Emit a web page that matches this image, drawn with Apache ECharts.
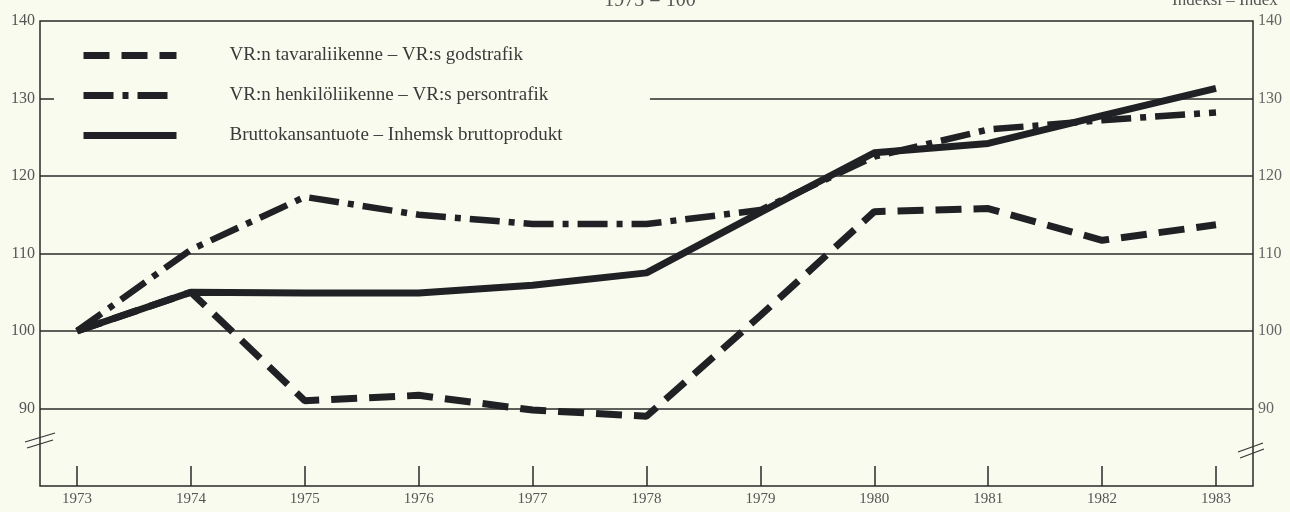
<!DOCTYPE html>
<html>
<head>
<meta charset="utf-8">
<script src="https://cdn.jsdelivr.net/npm/echarts@6/dist/echarts.min.js"></script>
<style>
  html, body { margin: 0; padding: 0; background: #fafbef; }
  #chart { width: 1290px; height: 512px; }
</style>
</head>
<body>
<div id="chart"></div>
<script>
// ====== data (1973 = 100) ======
const years = [1973, 1974, 1975, 1976, 1977, 1978, 1979, 1980, 1981, 1982, 1983];
const goodsTraffic = [100, 105, 91, 91.7, 89.8, 89, 102, 115.4, 115.8, 111.7, 113.7];
const passengerTraffic = [100, 110.5, 117.3, 115, 113.8, 113.8, 115.6, 122.5, 126, 127.2, 128.2];
const gdp = [100, 105, 104.9, 104.9, 105.9, 107.5, 115.3, 123, 124.2, 127.8, 131.3];
const yLabels = [90, 100, 110, 120, 130, 140];
const fullGridLines = [90, 100, 110, 120];

const seriesNames = [
  "VR:n tavaraliikenne – VR:s godstrafik",
  "VR:n henkilöliikenne – VR:s persontrafik",
  "Bruttokansantuote – Inhemsk bruttoprodukt",
];

const ink = "#1f2124";
const serif = "'Liberation Serif', 'DejaVu Serif', serif";

const chart = echarts.init(document.getElementById("chart"));

const pairs = (vals) => years.map((y, i) => [y, vals[i]]);

const option = {
  backgroundColor: "#fafbef",
  animation: false,
  title: {
    text: "1973 = 100",
    left: 645,
    top: -14,
    textAlign: "center",
    textStyle: { fontFamily: serif, fontWeight: "normal", fontSize: 20, color: "#555" },
  },
  graphic: [
    { type: "text", left: 1172, top: -8, style: { text: "Indeksi – Index", font: "17px " + serif, fill: "#555" } },
    { type: "text", left: 30, top: -14, style: { text: "Indeksi – Index", font: "17px " + serif, fill: "#777" } },
    // axis break marks
    { type: "line", shape: { x1: 25, y1: 442, x2: 55, y2: 433 }, style: { stroke: "#333", lineWidth: 1.2 } },
    { type: "line", shape: { x1: 27, y1: 448, x2: 53, y2: 440 }, style: { stroke: "#333", lineWidth: 1.2 } },
    { type: "line", shape: { x1: 1238, y1: 452, x2: 1263, y2: 443 }, style: { stroke: "#333", lineWidth: 1.2 } },
    { type: "line", shape: { x1: 1240, y1: 458, x2: 1264, y2: 449 }, style: { stroke: "#333", lineWidth: 1.2 } },
  ],
  legend: {
    orient: "vertical",
    left: 75,
    top: 41,
    itemWidth: 93,
    itemHeight: 16,
    itemGap: 21,
    data: seriesNames,
    itemStyle: { color: "rgba(0,0,0,0)", borderWidth: 0, opacity: 0 },
    lineStyle: { width: 7 },
    textStyle: { fontFamily: serif, fontSize: 19, color: "#3a3a3a", padding: [0, 0, 0, 48] },
  },
  grid: {
    left: 40, right: 37, top: 21, bottom: 26,
    show: true,
    borderColor: "#2a2a2a",
    borderWidth: 1.5,
    backgroundColor: "transparent",
  },
  xAxis: {
    type: "value",
    min: 1972.675,
    max: 1983.325,
    axisLine: { show: false },
    splitLine: { show: false },
    axisTick: {
      inside: true, length: 20,
      customValues: years,
      lineStyle: { color: "#2a2a2a", width: 1.5 },
    },
    axisLabel: {
      customValues: years,
      fontFamily: serif, fontSize: 15, color: "#555", margin: 6,
      formatter: (v) => String(v),
    },
  },
  yAxis: [
    {
      type: "value",
      min: 80, max: 140, interval: 10,
      axisLine: { show: false },
      splitLine: { show: false },
      axisTick: { show: true, inside: true, length: 14, customValues: [130], lineStyle: { color: "#2a2a2a", width: 1.5 } },
      axisLabel: { customValues: yLabels, fontFamily: serif, fontSize: 16, color: "#555", margin: 5 },
    },
    {
      type: "value",
      position: "right",
      min: 80, max: 140, interval: 10,
      axisLine: { show: false },
      splitLine: { show: false },
      axisTick: { show: false },
      axisLabel: { customValues: yLabels, fontFamily: serif, fontSize: 16, color: "#666", margin: 5 },
    },
  ],
  series: [
    {
      name: seriesNames[0],
      type: "line",
      symbol: "none",
      data: pairs(goodsTraffic),
      lineStyle: { color: ink, width: 7, type: [26, 12] },
      itemStyle: { color: ink },
      z: 3,
    },
    {
      name: seriesNames[1],
      type: "line",
      symbol: "none",
      data: pairs(passengerTraffic),
      lineStyle: { color: ink, width: 6.5, type: [30, 9, 6, 9] },
      itemStyle: { color: ink },
      z: 3,
    },
    {
      name: seriesNames[2],
      type: "line",
      symbol: "none",
      data: pairs(gdp),
      lineStyle: { color: ink, width: 7 },
      itemStyle: { color: ink },
      z: 4,
      markLine: {
        silent: true,
        symbol: "none",
        label: { show: false },
        lineStyle: { color: "#2a2a2a", width: 1.5, type: "solid" },
        data: fullGridLines.map((v) => ({ yAxis: v }))
          .concat([[{ coord: [1978.03, 130] }, { coord: [1983.325, 130] }]]),
        z: 1,
      },
    },
  ],
};

chart.setOption(option);
</script>
</body>
</html>
